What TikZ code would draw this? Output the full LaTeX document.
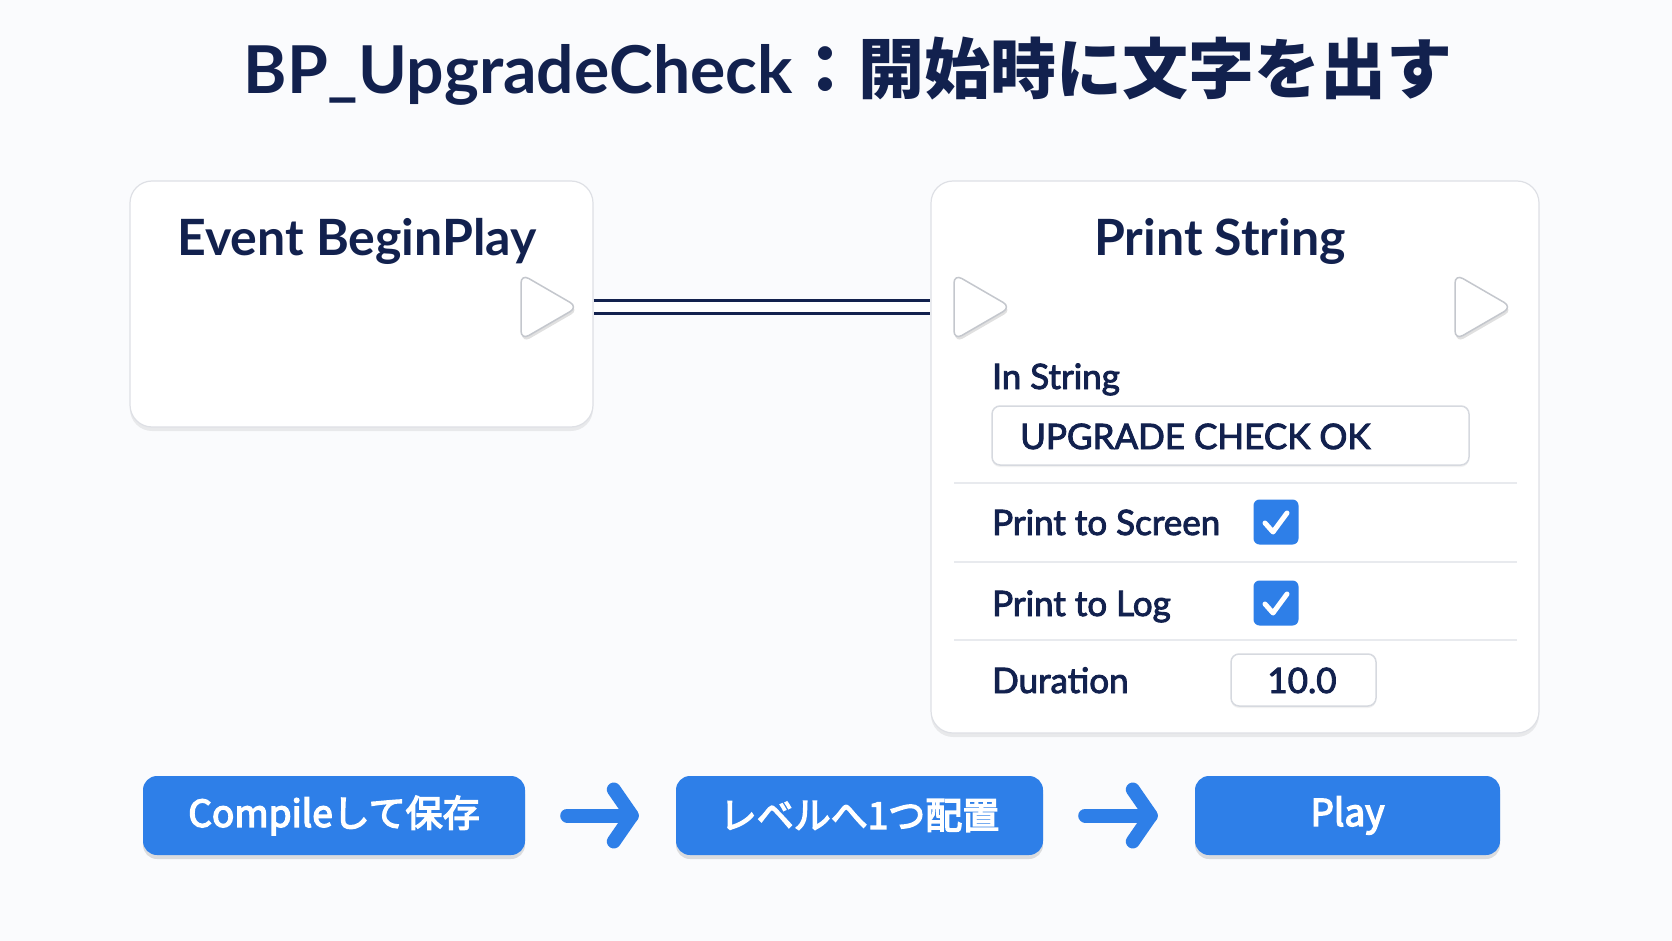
\documentclass[tikz,border=0pt]{standalone}
\usepackage{fontspec}
\setmainfont{Lato}
\newfontfamily\jp{Noto Sans CJK JP}
\newcommand\heavytext[2]{\special{pdf:literal direct #1 w 2 Tr}#2\special{pdf:literal direct 0 Tr}}
\usetikzlibrary{shadows}
\definecolor{navy}{RGB}{18,33,78}
\definecolor{bgc}{RGB}{250,251,253}
\definecolor{btn}{RGB}{46,127,232}
\definecolor{cardline}{RGB}{222,224,229}
\definecolor{fieldline}{RGB}{214,217,223}
\definecolor{sepline}{RGB}{232,234,238}
\definecolor{pinline}{RGB}{196,199,205}
\tikzset{
  card/.style={draw=cardline, line width=1.2pt, fill=white, rounded corners=22pt,
    drop shadow={shadow xshift=0pt, shadow yshift=-4pt, opacity=0.07, fill=black}},
  field/.style={draw=fieldline, line width=1.5pt, fill=white, rounded corners=8pt,
    drop shadow={shadow xshift=0pt, shadow yshift=-2pt, opacity=0.05, fill=black}},
  pinshape/.style={draw=pinline, line width=1.5pt, fill=white, rounded corners=9pt,
    drop shadow={shadow xshift=1pt, shadow yshift=-3pt, opacity=0.12, fill=black}},
  checkbox/.style={fill=btn, rounded corners=6pt, minimum width=45pt, minimum height=45pt,
    inner sep=0pt},
  checkmark/.style={draw=white, line width=5pt, line cap=round, line join=round},
  button/.style={fill=btn, rounded corners=14pt, inner sep=0pt, text=white,
    font=\jp\fontsize{37}{44}\selectfont,
    drop shadow={shadow xshift=0pt, shadow yshift=-4pt, opacity=0.12, fill=black}},
  flowarrow/.style={draw=btn, line width=14pt, line cap=round, line join=round},
  wire/.style={draw=navy, line width=3.2pt, double=white, double distance=9.5pt},
  heading/.style={text=navy, inner sep=0pt, anchor=base, font=\bfseries\fontsize{50}{60}\selectfont},
  label/.style={text=navy, inner sep=0pt, anchor=base west, font=\fontsize{35}{42}\selectfont},
}
\begin{document}
\begin{tikzpicture}[x=1pt,y=-1pt]
\fill[bgc] (0,0) rectangle (1672,941);
\useasboundingbox (0,0) rectangle (1672,941);

% title
\node[text=navy, inner sep=0pt, anchor=base, font=\bfseries\fontsize{66}{76}\selectfont]
  (title) at (848,94) {BP\_UpgradeCheck{\jp\bfseries ：開始時に文字を出す}};

\coordinate (p1) at (548,307);

% Event BeginPlay card
\node[card, minimum width=463pt, minimum height=246pt] (ev) at (361.5,304) {};
\node[heading] (evt) at (357,256) {Event BeginPlay};

% Print String card
\node[card, minimum width=608pt, minimum height=552pt] (ps) at (1235,457) {};
\node[heading] (pst) at (1220,256) {Print String};

\draw[wire] (ev.east |- p1) -- (ps.west |- p1);

% pins
\draw[pinshape] (521,274) -- (578,307) -- (521,340) -- cycle;
\draw[pinshape] (954,274) -- (1011,307) -- (954,340) -- cycle;
\draw[pinshape] (1455,274) -- (1512,307) -- (1455,340) -- cycle;

% In String
\node[label] (instr) at (992,389) {\heavytext{0.9}{In String}};
\node[field, minimum width=477pt, minimum height=59pt] (infield) at (1230.5,435.5) {};
\node[label] (inval) at (1020,449) {\heavytext{0.9}{UPGRADE CHECK OK}};

% separators
\draw[sepline, line width=1.2pt] (954,483) -- (1517,483);
\draw[sepline, line width=1.2pt] (954,562) -- (1517,562);
\draw[sepline, line width=1.2pt] (954,640) -- (1517,640);

% Print to Screen
\node[label] (pts) at (992,535) {\heavytext{0.9}{Print to Screen}};
\node[checkbox] (cb1) at (1276,522) {};
\draw[checkmark] (cb1.center) +(-11,1) -- +(-3,10) -- +(11,-9);

% Print to Log
\node[label] (ptl) at (992,616) {\heavytext{0.9}{Print to Log}};
\node[checkbox] (cb2) at (1276,603) {};
\draw[checkmark] (cb2.center) +(-11,1) -- +(-3,10) -- +(11,-9);

% Duration
\node[label] (dur) at (992,693) {\heavytext{0.9}{Duration}};
\node[field, minimum width=145pt, minimum height=52pt] (durfield) at (1303.5,680) {};
\node[label, anchor=base] (durval) at (1302,693) {\heavytext{0.9}{10.0}};

% bottom flow
\node[button, minimum width=382pt, minimum height=79pt] (b1) at (334,815.5) {\heavytext{1.4}{Compileして保存}};
\node[button, minimum width=367pt, minimum height=79pt] (b2) at (859.5,815.5) {\heavytext{1.4}{レベルへ1つ配置}};
\node[button, minimum width=305pt, minimum height=79pt] (b3) at (1347.5,815.5) {\heavytext{1.4}{Play}};

\draw[flowarrow] ([xshift=42pt]b1.east) -- ([xshift=-44pt]b2.west);
\draw[flowarrow] ([xshift=-62pt,yshift=26pt]b2.west) -- ([xshift=-44pt]b2.west) -- ([xshift=-62pt,yshift=-26pt]b2.west);
\draw[flowarrow] ([xshift=42pt]b2.east) -- ([xshift=-44pt]b3.west);
\draw[flowarrow] ([xshift=-62pt,yshift=26pt]b3.west) -- ([xshift=-44pt]b3.west) -- ([xshift=-62pt,yshift=-26pt]b3.west);
\end{tikzpicture}
\end{document}
